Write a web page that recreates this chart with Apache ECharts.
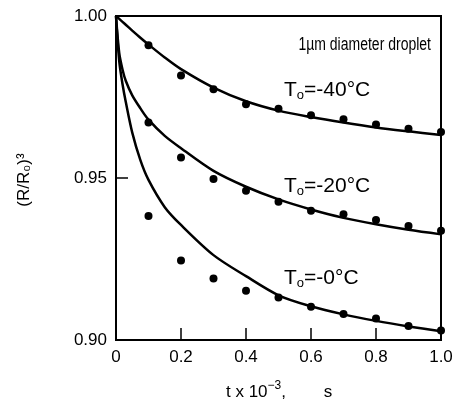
<!DOCTYPE html>
<html>
<head>
<meta charset="utf-8">
<script src="https://cdn.jsdelivr.net/npm/echarts@6/dist/echarts.min.js"></script>
<style>
html,body{margin:0;padding:0;background:#fff;}
#c{width:458px;height:406px;}
</style>
</head>
<body>
<div id="c"></div>
<script>
// measured data points (t x 10^-3 s, (R/R0)^3)
var tPoints = [0.1, 0.2, 0.3, 0.4, 0.5, 0.6, 0.7, 0.8, 0.9, 1.0];
var pts40 = [0.9910, 0.9816, 0.9774, 0.9728, 0.9714, 0.9694, 0.9681, 0.9665, 0.9652, 0.9642];
var pts20 = [0.9671, 0.9563, 0.9497, 0.9461, 0.9427, 0.9399, 0.9388, 0.9370, 0.9352, 0.9337];
var pts0  = [0.9383, 0.9245, 0.9190, 0.9152, 0.9131, 0.9103, 0.9080, 0.9066, 0.9043, 0.9029];

// theoretical curves
var tCurve = [0, 0.01, 0.02, 0.03, 0.05, 0.075, 0.1, 0.15, 0.2, 0.3, 0.4, 0.5, 0.6, 0.7, 0.8, 0.9, 1.0];
var curve40 = [1.0, 0.9991, 0.9982, 0.9973, 0.9955, 0.9933, 0.9912, 0.9872, 0.9836, 0.9779, 0.9737, 0.9708, 0.9688, 0.9671, 0.9656, 0.9644, 0.9633];
var curve20 = [1.0, 0.9885, 0.9835, 0.9800, 0.9755, 0.9715, 0.9680, 0.9630, 0.9592, 0.9522, 0.9473, 0.9434, 0.9403, 0.9377, 0.9357, 0.9340, 0.9326];
var curve0  = [1.0, 0.9860, 0.9790, 0.9735, 0.9640, 0.9555, 0.9494, 0.9410, 0.9355, 0.9262, 0.9197, 0.9138, 0.9104, 0.9079, 0.9059, 0.9042, 0.9027];

var xTicks = ['0', '0.2', '0.4', '0.6', '0.8', '1.0'];
var yTicks = ['0.90', '0.95', '1.00'];

function zip(xs, ys) { return xs.map(function (x, i) { return [x, ys[i]]; }); }

var FONT = '"Liberation Sans", Arial, Helvetica, sans-serif';
var chart = echarts.init(document.getElementById('c'), null, {renderer: 'canvas'});

function lineSeries(d) {
  return {type: 'line', data: zip(tCurve, d), smooth: 0.3, showSymbol: false,
    lineStyle: {color: '#000', width: 2.5}, silent: true, z: 3};
}
function dotSeries(d) {
  return {type: 'scatter', data: zip(tPoints, d), symbol: 'circle', symbolSize: 8,
    itemStyle: {color: '#000', opacity: 1}, clip: false, silent: true, z: 4};
}

chart.setOption({
  animation: false,
  backgroundColor: '#fff',
  grid: {left: 116, right: 17, top: 16, bottom: 66, show: true, borderColor: '#000', borderWidth: 2, backgroundColor: 'transparent'},
  xAxis: {
    type: 'value', min: 0, max: 1, interval: 0.2,
    axisLine: {show: true, lineStyle: {color: '#000', width: 2}},
    axisTick: {show: true, inside: true, length: 12, lineStyle: {color: '#000', width: 1.5}},
    splitLine: {show: false},
    axisLabel: {color: '#000', fontSize: 17, fontFamily: FONT, margin: 9,
      formatter: function (v) { return xTicks[Math.round(v / 0.2)]; }}
  },
  yAxis: {
    type: 'value', min: 0.9, max: 1.0, interval: 0.05,
    axisLine: {show: true, lineStyle: {color: '#000', width: 2}},
    axisTick: {show: true, inside: true, length: 12, lineStyle: {color: '#000', width: 1.5}},
    splitLine: {show: false},
    axisLabel: {color: '#000', fontSize: 17, fontFamily: FONT, margin: 9,
      formatter: function (v) { return yTicks[Math.round((v - 0.9) / 0.05)]; }}
  },
  series: [lineSeries(curve40), lineSeries(curve20), lineSeries(curve0),
           dotSeries(pts40), dotSeries(pts20), dotSeries(pts0)],
  graphic: [
    {type: 'text', x: 431, y: 45, scaleY: 1.25, style: {text: '1µm diameter droplet', fill: '#000', font: '14px ' + FONT, align: 'right', verticalAlign: 'middle'}},
    {type: 'text', left: 284, top: 80, style: {text: '{t|T}{s|o}{t|=-40°C}', fill: '#000',
      rich: {t: {fontSize: 21, fontFamily: FONT, fill: '#000'}, s: {fontSize: 13, fontFamily: FONT, fill: '#000', padding: [10, 0, 0, 0]}}}},
    {type: 'text', left: 284, top: 176, style: {text: '{t|T}{s|o}{t|=-20°C}', fill: '#000',
      rich: {t: {fontSize: 21, fontFamily: FONT, fill: '#000'}, s: {fontSize: 13, fontFamily: FONT, fill: '#000', padding: [10, 0, 0, 0]}}}},
    {type: 'text', left: 284, top: 268, style: {text: '{t|T}{s|o}{t|=-0°C}', fill: '#000',
      rich: {t: {fontSize: 21, fontFamily: FONT, fill: '#000'}, s: {fontSize: 13, fontFamily: FONT, fill: '#000', padding: [10, 0, 0, 0]}}}},
    {type: 'text', left: 226, top: 380, style: {text: '{a|t x 10}{b|−3}{a|,        s}', fill: '#000',
      rich: {a: {fontSize: 17, fontFamily: FONT, fill: '#000', padding: [6, 0, 0, 0]}, b: {fontSize: 12, fontFamily: FONT, fill: '#000', padding: [0, 0, 6, 0]}}}},
    {type: 'text', x: 24, y: 180, rotation: Math.PI / 2, style: {text: '(R/R₀)³', fill: '#000', font: '17px ' + FONT, align: 'center', verticalAlign: 'middle'}}
  ]
});
</script>
</body>
</html>
